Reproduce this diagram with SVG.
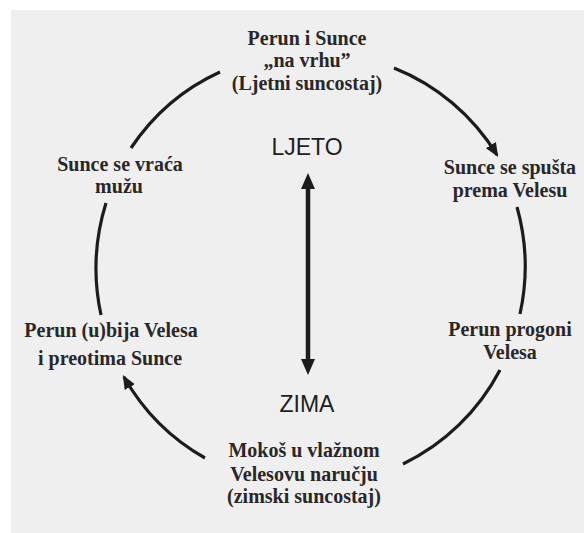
<svg xmlns="http://www.w3.org/2000/svg" width="584" height="533" viewBox="0 0 584 533">
<defs>
<style>
.lbl{font-family:"Liberation Serif","DejaVu Serif",serif;font-weight:bold;font-size:20px;fill:#2a2728;text-anchor:middle}
.season{font-family:"Liberation Sans","DejaVu Sans",sans-serif;font-size:23px;fill:#1e1e1e;text-anchor:middle}
.arc{fill:none;stroke:#1c1c1c;stroke-width:3.2;stroke-linecap:butt}
</style>
<marker id="ah" viewBox="0 0 12 10" refX="10" refY="5" markerWidth="14" markerHeight="12" markerUnits="userSpaceOnUse" orient="auto">
<path d="M0,0 L12,5 L0,10 z" fill="#1c1c1c"/>
</marker>
</defs>
<rect x="0" y="0" width="584" height="533" fill="#ffffff"/>
<rect x="11" y="10" width="573" height="523" fill="#efefef"/>
<g id="connectors">
<path class="arc" d="M131,148 A213,217 0 0,1 220,72"/>
<path class="arc" d="M394,68 A213,217 0 0,1 497,155" marker-end="url(#ah)"/>
<path class="arc" d="M517,207 A213,217 0 0,1 520,314"/>
<path class="arc" d="M500,370 A213,217 0 0,1 403,464"/>
<path class="arc" d="M205,458 A213,217 0 0,1 124,377" marker-end="url(#ah)"/>
<path class="arc" d="M101,315 A213,217 0 0,1 106,203"/>
<g id="season-arrow">
<line x1="308" y1="186" x2="308" y2="362" stroke="#1c1c1c" stroke-width="4.5"/>
<polygon points="308,173 301,189 315,189" fill="#1c1c1c"/>
<polygon points="308,375 301,359 315,359" fill="#1c1c1c"/>
</g>
</g>
<g id="node-top">
<text class="lbl" x="307" y="45">Perun i Sunce</text>
<text class="lbl" x="307" y="67">„na vrhu”</text>
<text class="lbl" x="307" y="90">(Ljetni suncostaj)</text>
</g>
<g id="node-right-top">
<text class="lbl" x="510" y="174">Sunce se spušta</text>
<text class="lbl" x="510" y="197">prema Velesu</text>
</g>
<g id="node-right-bottom">
<text class="lbl" x="510" y="336">Perun progoni</text>
<text class="lbl" x="510" y="359">Velesa</text>
</g>
<g id="node-bottom">
<text class="lbl" x="304" y="457">Mokoš u vlažnom</text>
<text class="lbl" x="304" y="481">Velesovu naručju</text>
<text class="lbl" x="304" y="503">(zimski suncostaj)</text>
</g>
<g id="node-left-bottom">
<text class="lbl" x="111" y="337">Perun (u)bija Velesa</text>
<text class="lbl" x="110" y="365">i preotima Sunce</text>
</g>
<g id="node-left-top">
<text class="lbl" x="120" y="171">Sunce se vraća</text>
<text class="lbl" x="119" y="193">mužu</text>
</g>
<g id="ljeto">
<text class="season" x="307" y="155">LJETO</text>
</g>
<g id="zima">
<text class="season" x="307" y="412">ZIMA</text>
</g>
</svg>
